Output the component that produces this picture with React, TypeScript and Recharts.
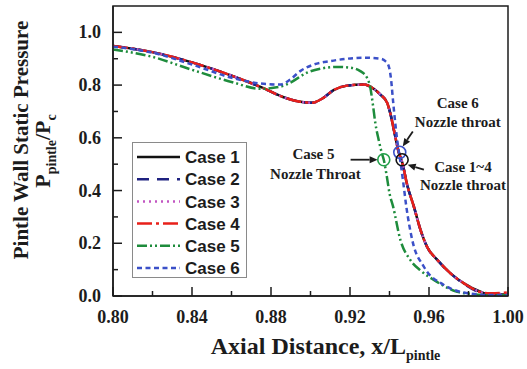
import React from "react"
import {
  LineChart,
  Line,
  XAxis,
  YAxis,
  ReferenceDot,
  ReferenceLine,
  ReferenceArea,
  Legend,
} from "recharts"

// axial position x/L_pintle and P_pintle/P_c
const case14X = [0.8, 0.82, 0.84, 0.86, 0.875, 0.886, 0.894, 0.901, 0.9066, 0.9117, 0.9185, 0.927, 0.932, 0.9354, 0.9388, 0.9405, 0.9425, 0.9445, 0.9465, 0.949, 0.9523, 0.9557, 0.959, 0.9642, 0.9709, 0.9777, 0.9861, 0.9912, 1.0]
const case1Y = [0.948, 0.925, 0.886, 0.836, 0.792, 0.755, 0.738, 0.733, 0.752, 0.781, 0.798, 0.802, 0.786, 0.764, 0.733, 0.69, 0.62, 0.55, 0.505, 0.42, 0.34, 0.251, 0.187, 0.137, 0.086, 0.048, 0.016, 0.006, 0.006]
const case2Y = [0.948, 0.925, 0.886, 0.836, 0.792, 0.755, 0.738, 0.733, 0.752, 0.781, 0.798, 0.802, 0.786, 0.764, 0.733, 0.69, 0.62, 0.55, 0.505, 0.42, 0.34, 0.251, 0.187, 0.137, 0.086, 0.046, 0.012, 0.004, 0.004]
const case3Y = [0.948, 0.925, 0.886, 0.836, 0.792, 0.755, 0.738, 0.733, 0.752, 0.781, 0.798, 0.802, 0.786, 0.764, 0.733, 0.69, 0.62, 0.55, 0.505, 0.42, 0.34, 0.251, 0.187, 0.137, 0.086, 0.048, 0.015, 0.008, 0.01]
const case4Y = [0.948, 0.925, 0.886, 0.836, 0.792, 0.755, 0.738, 0.733, 0.752, 0.781, 0.798, 0.802, 0.786, 0.764, 0.733, 0.69, 0.62, 0.55, 0.505, 0.42, 0.34, 0.251, 0.187, 0.137, 0.086, 0.048, 0.015, 0.01, 0.014]

const case5X = [0.8, 0.82, 0.84, 0.86, 0.8745, 0.8847, 0.8897, 0.8982, 0.9049, 0.9134, 0.9201, 0.9252, 0.9286, 0.9303, 0.9317, 0.9328, 0.9345, 0.9362, 0.9371, 0.9385, 0.94, 0.9418, 0.9455, 0.9505, 0.956, 0.9624, 0.9743, 0.981, 0.99, 1.0]
const case5Y = [0.935, 0.907, 0.858, 0.812, 0.786, 0.794, 0.809, 0.847, 0.862, 0.869, 0.866, 0.853, 0.828, 0.79, 0.72, 0.657, 0.593, 0.54, 0.517, 0.46, 0.39, 0.34, 0.213, 0.137, 0.095, 0.061, 0.016, 0.008, 0.003, 0.003]

const case6X = [0.8, 0.82, 0.84, 0.86, 0.8745, 0.8846, 0.8897, 0.8948, 0.9017, 0.91, 0.9185, 0.927, 0.9354, 0.9379, 0.9396, 0.9408, 0.9418, 0.943, 0.9442, 0.9455, 0.9468, 0.9485, 0.9515, 0.9574, 0.9675, 0.9777, 0.99, 1.0]
const case6Y = [0.946, 0.923, 0.878, 0.828, 0.806, 0.802, 0.821, 0.853, 0.878, 0.891, 0.9, 0.904, 0.9, 0.891, 0.872, 0.821, 0.74, 0.65, 0.575, 0.51, 0.44, 0.34, 0.213, 0.111, 0.042, 0.013, 0.004, 0.004]

const xTicks = [0.8, 0.82, 0.84, 0.86, 0.88, 0.9, 0.92, 0.94, 0.96, 0.98, 1.0]
const xTickLabels = ["0.80", "", "0.84", "", "0.88", "", "0.92", "", "0.96", "", "1.00"]
const yTicks = [0, 0.1, 0.2, 0.3, 0.4, 0.5, 0.6, 0.7, 0.8, 0.9, 1.0]
const yTickLabels = ["0.0", "", "0.2", "", "0.4", "", "0.6", "", "0.8", "", "1.0"]

// nozzle throat markers and callouts
const throatMarks = [
  { x: 0.9371, y: 0.517, color: "#22a04a" },
  { x: 0.9452, y: 0.545, color: "#3b50c8" },
  { x: 0.9464, y: 0.517, color: "#111111" },
]
const noteTexts = [
  { x: 0.9746, y: 0.734, text: "Case 6" },
  { x: 0.9746, y: 0.662, text: "Nozzle throat" },
  { x: 0.9772, y: 0.49, text: "Case 1~4" },
  { x: 0.9772, y: 0.422, text: "Nozzle throat" },
  { x: 0.9015, y: 0.54, text: "Case 5" },
  { x: 0.9025, y: 0.464, text: "Nozzle Throat" },
]
const noteArrows = [
  { x1: 0.9518, y1: 0.624, x2: 0.9467, y2: 0.567 },
  { x1: 0.9574, y1: 0.479, x2: 0.9492, y2: 0.498 },
  { x1: 0.9203, y1: 0.517, x2: 0.934, y2: 0.517 },
]

const toPoints = (xs: number[], ys: number[]) => xs.map((x, i) => ({ x, y: ys[i] }))

const cases = [
  { name: "Case 1", data: toPoints(case14X, case1Y), color: "#111111", dash: undefined },
  { name: "Case 2", data: toPoints(case14X, case2Y), color: "#1f2280", dash: "12 8" },
  { name: "Case 3", data: toPoints(case14X, case3Y), color: "#c257c2", dash: "2 4" },
  { name: "Case 4", data: toPoints(case14X, case4Y), color: "#e8201a", dash: "15 4 3 4" },
  { name: "Case 5", data: toPoints(case5X, case5Y), color: "#1e8c3c", dash: "10 3 2 3 2 3" },
  { name: "Case 6", data: toPoints(case6X, case6Y), color: "#3b50c8", dash: "5 3.5" },
]

const ink = "#1c1c1c"
const serif = "'Liberation Serif', 'Times New Roman', serif"
const sans = "'Liberation Sans', Arial, sans-serif"

const XTick = (props: any) => {
  const { x, y, index } = props
  const label = xTickLabels[index]
  return (
    <g>
      <line x1={x} x2={x} y1={y} y2={y - (label ? 9 : 5)} stroke={ink} strokeWidth={1.5} />
      {label && (
        <text x={x} y={y + 27} textAnchor="middle" fontFamily={serif} fontWeight="bold" fontSize={18} fill={ink}>
          {label}
        </text>
      )}
    </g>
  )
}

const YTick = (props: any) => {
  const { x, y, index } = props
  const label = yTickLabels[index]
  return (
    <g>
      <line x1={x} x2={x + (label ? 9 : 5)} y1={y} y2={y} stroke={ink} strokeWidth={1.5} />
      {label && (
        <text x={x - 12} y={y + 6} textAnchor="end" fontFamily={serif} fontWeight="bold" fontSize={18} fill={ink}>
          {label}
        </text>
      )}
    </g>
  )
}

const YTitle = (props: any) => {
  const { viewBox } = props
  const cy = viewBox.y + viewBox.height / 2
  return (
    <g fontFamily={serif} fontWeight="bold" fill={ink}>
      <text x={28} y={cy - 11} textAnchor="middle" fontSize={21} transform={`rotate(-90, 28, ${cy - 11})`}>
        Pintle Wall Static Pressure
      </text>
      <text x={50} y={cy} textAnchor="middle" fontSize={22} transform={`rotate(-90, 50, ${cy})`}>
        P<tspan fontSize={14} dy={6}>pintle</tspan>
        <tspan dy={-6}>/P</tspan>
        <tspan fontSize={14} dy={6}>c</tspan>
      </text>
    </g>
  )
}

const XTitle = (props: any) => {
  const { viewBox } = props
  const cx = viewBox.x + viewBox.width / 2 + 15
  return (
    <text x={cx} y={viewBox.y + 58} textAnchor="middle" fontFamily={serif} fontWeight="bold" fontSize={24} fill={ink}>
      Axial Distance, x/L<tspan fontSize={14} dy={6}>pintle</tspan>
    </text>
  )
}

const NoteText = (text: string) => (p: any) => (
  <text x={p.cx} y={p.cy} dy="0.35em" textAnchor="middle" fontFamily={serif} fontWeight="bold" fontSize={15} fill={ink}>
    {text}
  </text>
)

const Arrow = (p: any) => {
  const { x1, y1, x2, y2 } = p
  const a = Math.atan2(y2 - y1, x2 - x1)
  const bx = x2 - 8 * Math.cos(a)
  const by = y2 - 8 * Math.sin(a)
  const w = 3.5
  const pts = `${x2},${y2} ${bx - w * Math.sin(a)},${by + w * Math.cos(a)} ${bx + w * Math.sin(a)},${by - w * Math.cos(a)}`
  return (
    <g>
      <line x1={x1} y1={y1} x2={bx} y2={by} stroke={ink} strokeWidth={1.8} />
      <polygon points={pts} fill={ink} />
    </g>
  )
}

const LegendBox = () => (
  <div style={{ width: 115, height: 136, border: "1px solid #8a8a8a", background: "#fff", boxSizing: "border-box" }}>
    <svg width={113} height={134}>
      {cases.map((c, i) => (
        <g key={c.name}>
          <line x1={4} x2={47} y1={14 + i * 22.2} y2={14 + i * 22.2} stroke={c.color} strokeWidth={2.5} strokeDasharray={c.dash} />
          <text x={52} y={14 + i * 22.2} dy="0.36em" fontFamily={sans} fontWeight="bold" fontSize={17} fill={ink}>
            {c.name}
          </text>
        </g>
      ))}
    </svg>
  </div>
)

export default function App() {
  return (
    <div style={{ position: "absolute", left: 0, top: 0, background: "#fff" }}>
      <LineChart width={527} height={369} margin={{ top: 6, right: 19, left: 0, bottom: 0 }}>
        <XAxis
          dataKey="x"
          type="number"
          domain={[0.8, 1.0]}
          ticks={xTicks}
          interval={0}
          tickSize={0}
          tickMargin={0}
          tickLine={false}
          tick={XTick}
          height={73}
          axisLine={{ stroke: ink, strokeWidth: 1.5 }}
          allowDataOverflow
          label={XTitle}
        />
        <YAxis
          type="number"
          domain={[0, 1.1]}
          ticks={yTicks}
          interval={0}
          tickSize={0}
          tickMargin={0}
          tickLine={false}
          tick={YTick}
          width={113}
          axisLine={{ stroke: ink, strokeWidth: 1.5 }}
          allowDataOverflow
          label={YTitle}
        />
        <ReferenceArea x1={0.8} x2={1.0} y1={0} y2={1.1} fill="none" stroke={ink} strokeWidth={1.5} />
        {cases.map((c) => (
          <Line
            key={c.name}
            data={c.data}
            dataKey="y"
            name={c.name}
            type="monotone"
            stroke={c.color}
            strokeWidth={2.5}
            strokeDasharray={c.dash}
            dot={false}
            activeDot={false}
            isAnimationActive={false}
          />
        ))}
        {throatMarks.map((m, i) => (
          <ReferenceDot key={"m" + i} x={m.x} y={m.y} r={6} fill="none" stroke={m.color} strokeWidth={1.6} />
        ))}
        {noteArrows.map((a, i) => (
          <ReferenceLine
            key={"a" + i}
            segment={[{ x: a.x1, y: a.y1 }, { x: a.x2, y: a.y2 }]}
            shape={Arrow}
            ifOverflow="visible"
          />
        ))}
        {noteTexts.map((n, i) => (
          <ReferenceDot key={"t" + i} x={n.x} y={n.y} r={0} shape={NoteText(n.text)} ifOverflow="visible" />
        ))}
        <Legend
          layout="vertical"
          align="center"
          verticalAlign="middle"
          wrapperStyle={{ left: 132, top: 142, width: 115, height: 136 }}
          content={LegendBox}
        />
      </LineChart>
    </div>
  )
}
